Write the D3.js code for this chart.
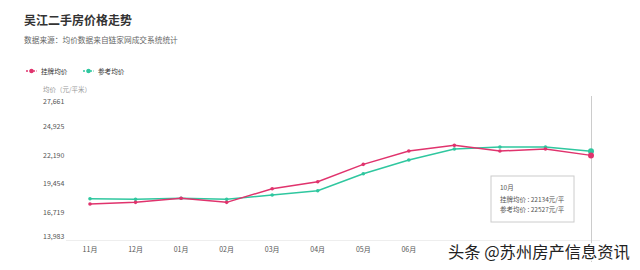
<!DOCTYPE html>
<html>
<head>
<meta charset="utf-8">
<script src="https://cdn.jsdelivr.net/npm/d3@7"></script>
<style>
  body { margin: 0; background: #fff; }
  svg { display: block; font-family: "Noto Sans CJK SC", "Noto Sans", sans-serif; }
</style>
</head>
<body>
<div id="chart"></div>
<script>
var months = ['11月', '12月', '01月', '02月', '03月', '04月', '05月', '06月', '07月', '08月', '09月', '10月'];
var listPrice = [17450, 17610, 18000, 17610, 18920, 19600, 21270, 22550, 23100, 22550, 22750, 22134];
var refPrice = [17960, 17900, 18000, 17900, 18320, 18730, 20370, 21690, 22750, 22940, 22940, 22527];
var yTicks = [13983, 16719, 19454, 22190, 24925, 27661];
var seriesNames = ['挂牌均价', '参考均价'];
var colors = ['#e0336d', '#2fc79f'];

var width = 640, height = 270;
var svg = d3.select('#chart').append('svg')
    .attr('width', width)
    .attr('height', height);

svg.append('text').attr('x', 24).attr('y', 25)
    .attr('font-size', 12).attr('font-weight', 'bold').attr('fill', '#333')
    .text('吴江二手房价格走势');
svg.append('text').attr('x', 24).attr('y', 43)
    .attr('font-size', 7.7).attr('fill', '#666')
    .text('数据来源：均价数据来自链家网成交系统统计');

// legend
var legend = svg.selectAll('.lg').data(seriesNames).enter().append('g')
    .attr('transform', function(d, i) { return 'translate(' + (26 + i * 57) + ',71)'; });
legend.append('line').attr('x1', 0).attr('x2', 11).attr('y1', 0).attr('y2', 0)
    .attr('stroke', function(d, i) { return colors[i]; }).attr('stroke-width', 1.5)
    .attr('stroke-dasharray', '2,1.5');
legend.append('circle').attr('cx', 5.5).attr('cy', 0).attr('r', 2.2)
    .attr('fill', function(d, i) { return colors[i]; });
legend.append('text').attr('x', 15).attr('y', 2.5)
    .attr('font-size', 6.6).attr('fill', '#333')
    .text(function(d) { return d; });

var x = d3.scalePoint().domain(months).range([90, 591]);
var y = d3.scaleLinear().domain([13983, 27661]).range([240, 98]);

svg.append('text').attr('x', 43).attr('y', 92)
    .attr('font-size', 6.5).attr('fill', '#999')
    .text('均价（元/平米）');

svg.selectAll('.yt').data(yTicks).enter().append('text')
    .attr('x', 43)
    .attr('y', function(d, i) {
      var p = y(d) + 3;
      if (i === 0) p = 239;
      if (i === yTicks.length - 1) p = 104;
      return p;
    })
    .attr('font-size', 7).attr('fill', '#555')
    .text(function(d) { return d3.format(',')(d); });

// x axis (labels past 06月 sit under the watermark)
svg.append('line').attr('x1', 66).attr('x2', 600).attr('y1', 240.5).attr('y2', 240.5)
    .attr('stroke', '#eee');
svg.selectAll('.xt').data(months.slice(0, 8)).enter().append('text')
    .attr('x', function(d) { return x(d); }).attr('y', 252)
    .attr('text-anchor', 'middle').attr('font-size', 7).attr('fill', '#555')
    .text(function(d) { return d; });

// axis pointer
svg.append('line').attr('x1', x('10月') + 0.5).attr('x2', x('10月') + 0.5)
    .attr('y1', 96).attr('y2', 262).attr('stroke', '#ccc');

var line = d3.line()
    .x(function(d, i) { return x(months[i]); })
    .y(function(d) { return y(d); });

[refPrice, listPrice].forEach(function(data) {
  var c = data === listPrice ? colors[0] : colors[1];
  svg.append('path').datum(data).attr('d', line)
      .attr('fill', 'none').attr('stroke', c).attr('stroke-width', 1.5);
  svg.selectAll(null).data(data).enter().append('circle')
      .attr('cx', function(d, i) { return x(months[i]); })
      .attr('cy', function(d) { return y(d); })
      .attr('r', function(d, i) { return i === data.length - 1 ? 3 : 1.8; })
      .attr('fill', c);
});

// tooltip
var tip = svg.append('g').attr('transform', 'translate(491,176)');
tip.append('rect').attr('width', 83).attr('height', 46)
    .attr('fill', '#fff').attr('stroke', '#ccc');
tip.append('text').attr('x', 9).attr('y', 14).attr('font-size', 6.5).attr('fill', '#555')
    .text(months[11]);
tip.append('text').attr('x', 9).attr('y', 25.5).attr('font-size', 6.5).attr('fill', '#555')
    .text(seriesNames[0] + ' : ' + listPrice[11] + '元/平');
tip.append('text').attr('x', 9).attr('y', 36).attr('font-size', 6.5).attr('fill', '#555')
    .text(seriesNames[1] + ' : ' + refPrice[11] + '元/平');

// watermark
svg.append('text').attr('x', 448).attr('y', 258)
    .attr('font-size', 16.3).attr('fill', '#222')
    .attr('stroke', '#fff').attr('stroke-width', 3).attr('paint-order', 'stroke')
    .text('头条 @苏州房产信息资讯');
</script>
</body>
</html>
